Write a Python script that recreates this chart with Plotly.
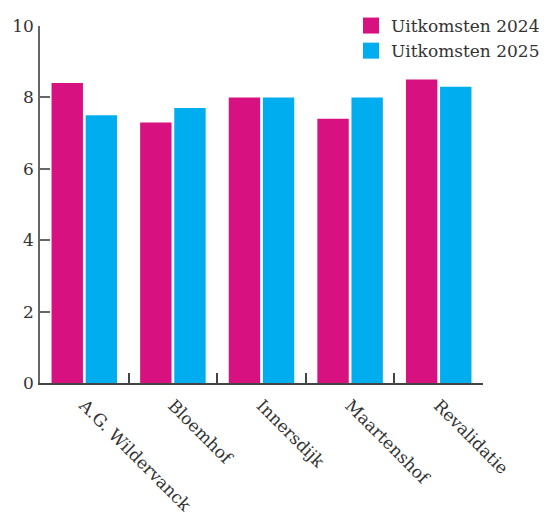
import plotly.graph_objects as go

categories = ["A.G. Wildervanck", "Bloemhof", "Innersdijk", "Maartenshof", "Revalidatie"]
series_names = ["Uitkomsten 2024", "Uitkomsten 2025"]
values_2024 = [8.4, 7.3, 8.0, 7.4, 8.5]
values_2025 = [7.5, 7.7, 8.0, 8.0, 8.3]
y_ticks = [0, 2, 4, 6, 8, 10]
colors = ["#D81180", "#00AEEF"]

FONT = "DejaVu Serif"

fig = go.Figure()
for name, vals, col in zip(series_names, [values_2024, values_2025], colors):
    fig.add_trace(go.Bar(x=categories, y=vals, name=name, marker_color=col,
                         marker_line_width=0, showlegend=False))
for name, col in zip(series_names, colors):
    fig.add_trace(go.Scatter(x=[None], y=[None], mode="markers", name=name,
                             marker=dict(symbol="square", size=18, color=col)))

# page body has an 8px default margin, so the figure is sized to fit the window
fig.update_layout(
    width=541, height=511,
    margin=dict(l=32, r=66, t=18, b=136, autoexpand=False),
    paper_bgcolor="white", plot_bgcolor="white",
    barmode="group", bargap=0.23, bargroupgap=0.08,
    font=dict(family=FONT, size=17, color="#333333"),
    legend=dict(xref="container", yref="container", x=0.634, xanchor="left",
                y=1.008, yanchor="top",
                font=dict(family=FONT, size=17, color="#333333"),
                itemsizing="trace", tracegroupgap=0, bgcolor="rgba(0,0,0,0)"),
    xaxis=dict(showline=True, linecolor="#444444", linewidth=1.5,
               ticks="inside", tickson="boundaries", ticklen=10, tickwidth=1.5,
               tickcolor="#444444", tickangle=45, showgrid=False,
               ticklabelstandoff=4, automargin=False),
    yaxis=dict(range=[0, 10], tickvals=y_ticks, showline=True,
               linecolor="#666666", linewidth=1.5, ticks="inside", ticklen=10,
               tickwidth=1.5, tickcolor="#666666", showgrid=False,
               zeroline=False, ticklabelstandoff=1, automargin=False),
)

fig.write_html("out.html")
